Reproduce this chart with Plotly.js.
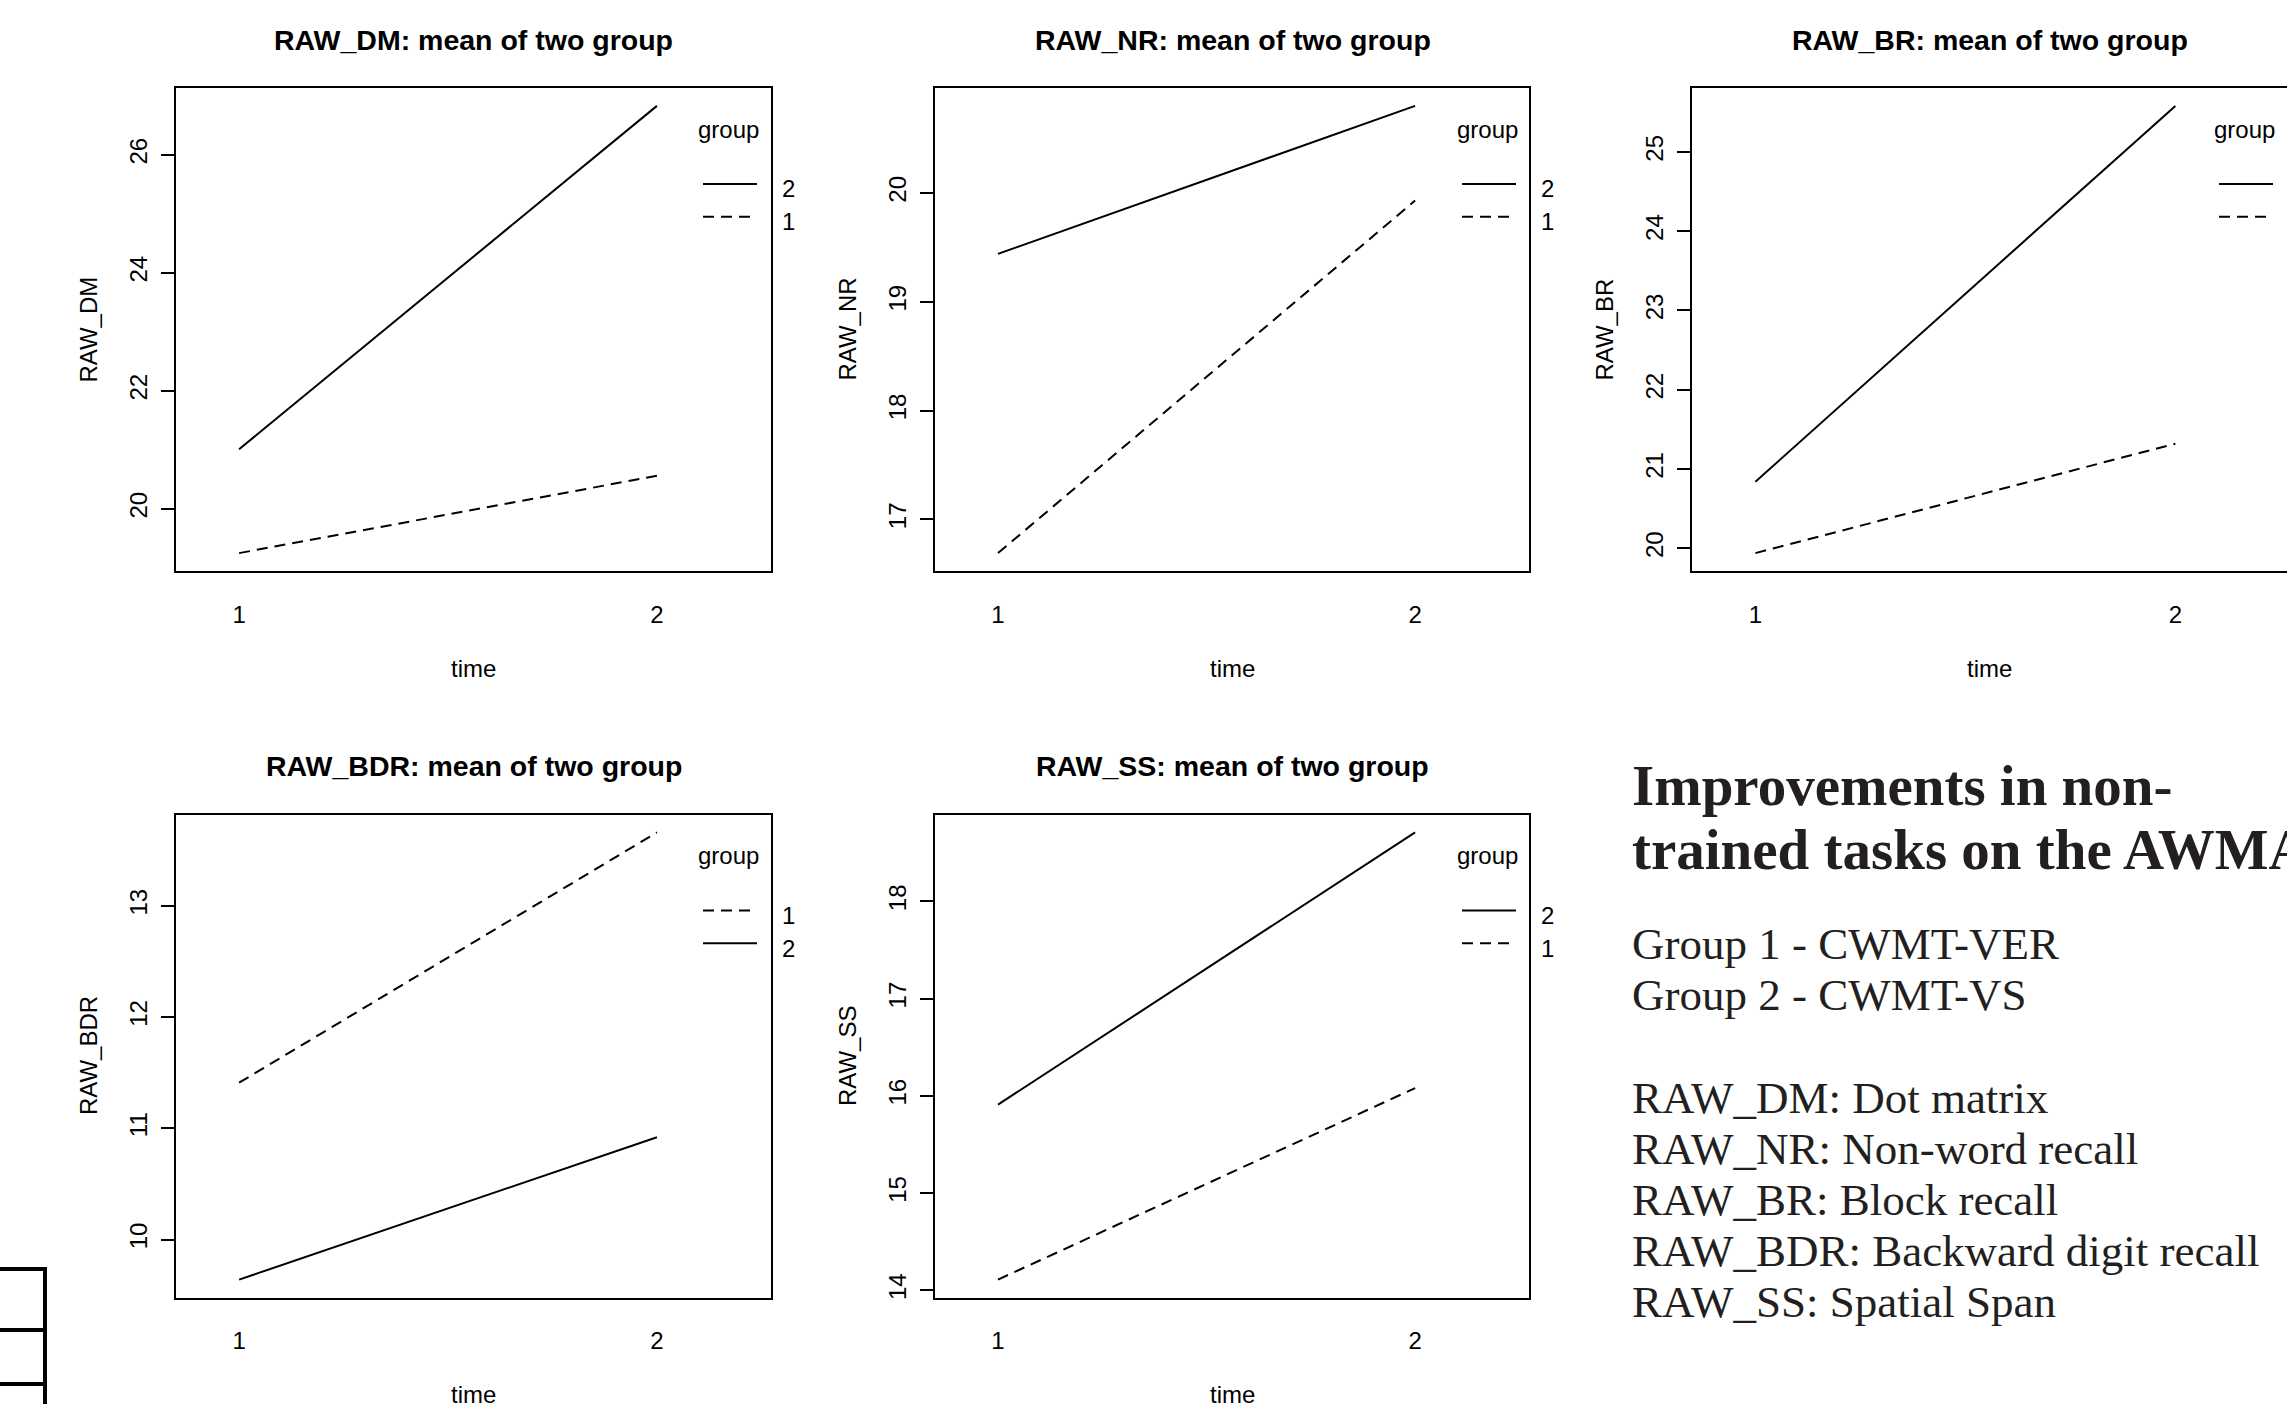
<!DOCTYPE html>
<html>
<head>
<meta charset="utf-8">
<script src="https://cdn.plot.ly/plotly-3.0.1.min.js"></script>
<style>
html, body { margin: 0; padding: 0; overflow: hidden; background: #ffffff; }
#chart { width: 2400px; height: 1404px; }
</style>
</head>
<body>
<div id="chart"></div>
<script>
// ---------- data ----------
const times = [1, 2];
const timeLabels = ['1', '2'];
const groupNames = ['1', '2'];
const measureNames = ['RAW_DM', 'RAW_NR', 'RAW_BR', 'RAW_BDR', 'RAW_SS'];

const dmGroup1 = [19.25, 20.56];
const dmGroup2 = [21.01, 26.83];
const nrGroup1 = [16.69, 19.93];
const nrGroup2 = [19.44, 20.80];
const brGroup1 = [19.94, 21.32];
const brGroup2 = [20.84, 25.58];
const bdrGroup1 = [11.41, 13.66];
const bdrGroup2 = [9.64, 10.92];
const ssGroup1 = [14.11, 16.08];
const ssGroup2 = [15.91, 18.71];

const dmTicks = [20, 22, 24, 26];
const nrTicks = [17, 18, 19, 20];
const brTicks = [20, 21, 22, 23, 24, 25];
const bdrTicks = [10, 11, 12, 13];
const ssTicks = [14, 15, 16, 17, 18];

const titleSuffix = ': mean of two group';
const xTitle = 'time';
const legendTitle = 'group';

const noteTitle = ['Improvements in non-', 'trained tasks on the AWMA'];
const noteGroups = ['Group 1 - CWMT-VER', 'Group 2 - CWMT-VS'];
const noteMeasures = ['RAW_DM: Dot matrix', 'RAW_NR: Non-word recall', 'RAW_BR: Block recall',
                      'RAW_BDR: Backward digit recall', 'RAW_SS: Spatial Span'];

// ---------- layout helpers ----------
const W = 2400, H = 1404;
const fx = px => px / W;
const fy = py => 1 - py / H;

const SANS = 'Liberation Sans, Arial, Helvetica, sans-serif';
const SERIF = 'Liberation Serif, Times New Roman, serif';
const DASH = '11px,7px';

const colLeft = [176, 935, 1692];
const colRight = [771, 1529, 2290];
const rowTop = [88, 814.5];
const rowBottom = [571, 1297.5];
const rowShift = [0, 726.5];

const panelData = [
  [dmGroup1, dmGroup2, dmTicks],
  [nrGroup1, nrGroup2, nrTicks],
  [brGroup1, brGroup2, brTicks],
  [bdrGroup1, bdrGroup2, bdrTicks],
  [ssGroup1, ssGroup2, ssTicks]
];
const panelPos = [[0, 0], [1, 0], [2, 0], [0, 1], [1, 1]];

const traces = [];
const layout = {
  width: W, height: H,
  margin: { l: 0, r: 0, t: 0, b: 0, pad: 0 },
  paper_bgcolor: '#ffffff', plot_bgcolor: '#ffffff',
  font: { family: SANS, size: 24, color: '#000000' },
  showlegend: false,
  annotations: [],
  shapes: []
};

panelData.forEach((pd, i) => {
  const [g1, g2, ticks] = pd;
  const [c, r] = panelPos[i];
  const sfx = i === 0 ? '' : String(i + 1);

  // series ordered as R's interaction.plot legend: by final value, descending
  const series = [
    { name: groupNames[0], y: g1, dash: DASH },
    { name: groupNames[1], y: g2, dash: 'solid' }
  ].sort((a, b) => b.y[b.y.length - 1] - a.y[a.y.length - 1]);

  series.forEach(s => {
    traces.push({
      type: 'scatter', mode: 'lines',
      x: times, y: s.y, name: s.name,
      xaxis: 'x' + sfx, yaxis: 'y' + sfx,
      line: { color: '#000000', width: 2, dash: s.dash },
      hoverinfo: 'skip'
    });
  });

  const all = g1.concat(g2);
  const lo = Math.min(...all), hi = Math.max(...all);
  const pad = 0.04 * (hi - lo);

  layout['xaxis' + sfx] = {
    domain: [fx(colLeft[c]), fx(colRight[c])],
    anchor: 'y' + sfx,
    range: [0.849, 2.273],
    tickvals: times, ticktext: timeLabels,
    ticks: '', ticklabelstandoff: 21,
    tickfont: { family: SANS, size: 24, color: '#000' },
    showgrid: false, zeroline: false,
    showline: true, mirror: true, linecolor: '#000', linewidth: 2,
    fixedrange: true
  };
  layout['yaxis' + sfx] = {
    domain: [fy(rowBottom[r]), fy(rowTop[r])],
    anchor: 'x' + sfx,
    range: [lo - pad, hi + pad],
    tickvals: ticks,
    ticktext: ticks.map(String),
    ticks: 'outside', ticklen: 13, tickwidth: 2, tickcolor: '#000',
    tickangle: -90, ticklabelstandoff: 4,
    tickfont: { family: SANS, size: 24, color: '#000' },
    showgrid: false, zeroline: false,
    showline: true, mirror: true, linecolor: '#000', linewidth: 2,
    fixedrange: true
  };

  const dx = colLeft[c] - colLeft[0];
  const dy = rowShift[r];
  const cx = colLeft[c] + 297.5;

  // legend (drawn like R's interaction.plot legend)
  layout.annotations.push({
    xref: 'paper', yref: 'paper', x: fx(728.5 + dx), y: fy(129 + dy),
    xanchor: 'center', yanchor: 'middle', showarrow: false,
    text: legendTitle, font: { family: SANS, size: 24, color: '#000' }
  });
  series.forEach((s, k) => {
    const ly = 184 + 32.7 * k + dy;
    layout.shapes.push({
      type: 'line', xref: 'paper', yref: 'paper',
      x0: fx(703 + dx), x1: fx(757 + dx), y0: fy(ly), y1: fy(ly),
      line: { color: '#000', width: 2, dash: s.dash }
    });
    layout.annotations.push({
      xref: 'paper', yref: 'paper', x: fx(788 + dx), y: fy(ly + 5),
      xanchor: 'center', yanchor: 'middle', showarrow: false,
      text: s.name, font: { family: SANS, size: 24, color: '#000' }
    });
  });

  // subplot title
  layout.annotations.push({
    xref: 'paper', yref: 'paper', x: fx(cx), y: fy(40 + dy),
    xanchor: 'center', yanchor: 'middle', showarrow: false,
    text: '<b>' + measureNames[i] + titleSuffix + '</b>',
    font: { family: SANS, size: 28.5, color: '#000' }
  });
  // x title
  layout.annotations.push({
    xref: 'paper', yref: 'paper', x: fx(cx), y: fy(668 + dy),
    xanchor: 'center', yanchor: 'middle', showarrow: false,
    text: xTitle, font: { family: SANS, size: 24, color: '#000' }
  });
  // y title
  layout.annotations.push({
    xref: 'paper', yref: 'paper', x: fx(88 + dx), y: fy((rowTop[r] + rowBottom[r]) / 2),
    xanchor: 'center', yanchor: 'middle', showarrow: false, textangle: -90,
    text: measureNames[i], font: { family: SANS, size: 24, color: '#000' }
  });
});

// side note text
const noteX = fx(1630);
const titleBase = [804.6, 869];
noteTitle.forEach((t, k) => {
  layout.annotations.push({
    xref: 'paper', yref: 'paper', x: noteX, y: fy(titleBase[k] - 0.34 * 57),
    xanchor: 'left', yanchor: 'middle', showarrow: false,
    text: '<b>' + t + '</b>', font: { family: SERIF, size: 57, color: '#231f20' }
  });
});
const groupBase = [959, 1010];
noteGroups.forEach((t, k) => {
  layout.annotations.push({
    xref: 'paper', yref: 'paper', x: noteX, y: fy(groupBase[k] - 0.34 * 45),
    xanchor: 'left', yanchor: 'middle', showarrow: false,
    text: t, font: { family: SERIF, size: 45, color: '#231f20' }
  });
});
noteMeasures.forEach((t, k) => {
  layout.annotations.push({
    xref: 'paper', yref: 'paper', x: noteX, y: fy(1113 + 51 * k - 0.34 * 45),
    xanchor: 'left', yanchor: 'middle', showarrow: false,
    text: t, font: { family: SERIF, size: 45, color: '#231f20' }
  });
});

// fragment of a neighbouring table at bottom-left edge
const edge = { color: '#000', width: 4 };
layout.shapes.push({ type: 'line', xref: 'paper', yref: 'paper', x0: fx(45), x1: fx(45), y0: fy(1267), y1: fy(1410), line: edge });
[1269, 1330, 1384].forEach(yy => {
  layout.shapes.push({ type: 'line', xref: 'paper', yref: 'paper', x0: fx(-5), x1: fx(47), y0: fy(yy), y1: fy(yy), line: edge });
});

Plotly.newPlot('chart', traces, layout, { displayModeBar: false, staticPlot: true });
</script>
</body>
</html>
